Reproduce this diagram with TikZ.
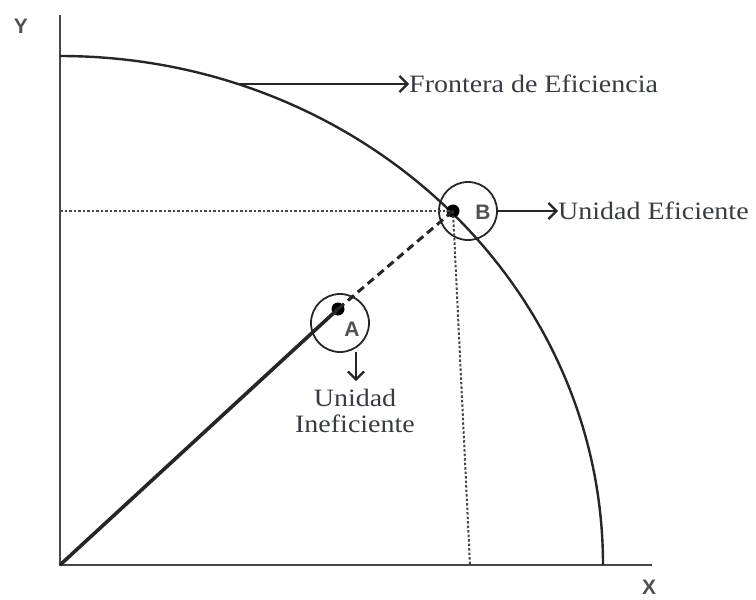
\documentclass[tikz,border=0pt]{standalone}
\usepackage{fontspec}
\setmainfont{Liberation Serif}
\newfontfamily\labserif{Liberation Serif}[FakeStretch=1.12]
\newfontfamily\labsans{Liberation Sans}
\usetikzlibrary{arrows.meta}
\definecolor{ink}{HTML}{262626}
\definecolor{txt}{HTML}{383B44}
\tikzset{
  axisline/.style={draw=ink!85, line width=2.4pt},
  frontier/.style={draw=ink, line width=2.4pt},
  ray/.style={draw=ink, line width=3.6pt},
  dashray/.style={draw=ink, line width=3pt, dash pattern=on 8pt off 5pt},
  dotline/.style={draw=ink!85, line width=2pt, dash pattern=on 2.5pt off 2pt},
  ring/.style={circle, draw=ink, line width=1.8pt, minimum size=58pt, inner sep=0pt},
  pt/.style={circle, fill=black, minimum size=13pt, inner sep=0pt},
  letter/.style={font=\labsans\bfseries\fontsize{21}{23}\selectfont, text=ink!80, inner sep=0pt},
  caption/.style={font=\labserif\fontsize{25}{28}\selectfont, text=txt, inner sep=0pt},
  pointer/.style={draw=ink, line width=2.2pt, -{Straight Barb[length=8pt, width=16pt, line width=2.2pt]}},
}
\begin{document}
\begin{tikzpicture}[x=1pt, y=-1pt]
\useasboundingbox (0,0) rectangle (756,600);
% axes
\coordinate (O) at (60,565);
\coordinate (Ytop) at (60,15);
\coordinate (Xend) at (652,565);
\draw[axisline] (Ytop) -- (O) -- (Xend);
\node[letter] (Ylab) at (21,26) {Y};
\node[letter] (Xlab) at (649,587) {X};
% frontier (quarter ellipse)
\coordinate (F0) at (60,56);
\draw[frontier] (F0) arc[start angle=90, end angle=0, x radius=543pt, y radius=509pt];
% points
\node[pt] (A) at (338,309) {};
\node[pt] (B) at (453,211) {};
\node[ring] (cA) at (340,323) {};
\node[ring] (cB) at (468,211) {};
\node[letter] (Alab) at (352,329) {A};
\node[letter] (Blab) at (483,212) {B};
% guide lines
\coordinate (Yb) at (60,211);
\coordinate (Xb) at (470,565);
\draw[dotline] (Yb) -- (B.center);
\draw[dotline] (B.center) -- (Xb);
% rays
\draw[ray] (O) -- (A.center);
\draw[dashray] (A.center) -- (B.center);
% labels and pointers
\coordinate (Fc) at (240,84);
\node[caption, anchor=west] (FE) at (409,84) {Frontera de Eficiencia};
\draw[pointer] (Fc) -- (FE.west);
\node[caption, align=center, anchor=west] (UE) at (558,211) {Unidad Eficiente};
\draw[pointer] (cB.east) -- (UE.west);
\node[caption, align=center, anchor=north] (UI) at (355,389) {Unidad\\[-2pt]Ineficiente};
\coordinate (Adown) at (356,352);
\coordinate (Aend) at (356,381);
\draw[pointer] (Adown) -- (Aend);
\end{tikzpicture}
\end{document}
